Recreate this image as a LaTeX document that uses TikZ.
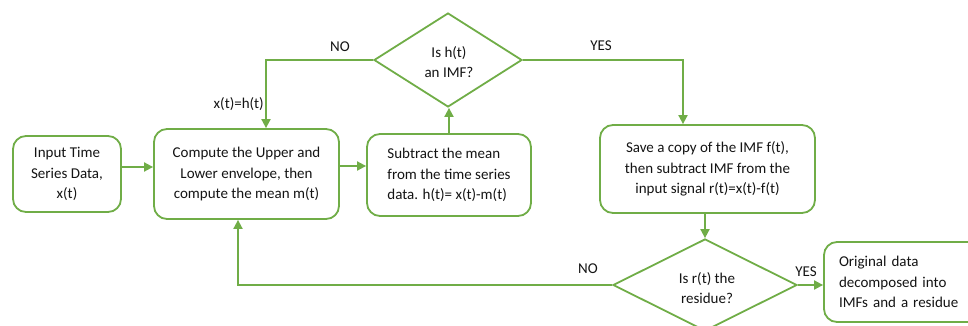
\documentclass[tikz,border=0pt]{standalone}
\usepackage{fontspec}
\setmainfont{Carlito}
\usetikzlibrary{shapes.geometric,arrows.meta}
\definecolor{gline}{RGB}{112,173,71}
\definecolor{txtc}{RGB}{20,20,20}
\tikzset{
  box/.style={draw=gline, line width=1.8pt, rounded corners=13pt, fill=white, inner sep=0pt, align=center, text=txtc},
  dia/.style={draw=gline, line width=1.8pt, diamond, inner sep=0pt, fill=white},
  txt/.style={align=center, text=txtc, inner sep=0pt},
  lbl/.style={text=txtc, inner sep=0pt},
  arr/.style={draw=gline, line width=1.8pt, -{Triangle[length=9pt,width=9pt]}},
  ln/.style={draw=gline, line width=1.8pt}
}
\begin{document}
\begin{tikzpicture}[x=1pt,y=-1pt,font=\fontsize{15}{20.5}\selectfont]
\useasboundingbox (0,0) rectangle (968,326);
\clip (0,0) rectangle (968,326);
\node[box, minimum width=108pt, minimum height=76pt] (in) at (67,174) {Input Time\\Series Data,\\x(t)};
\node[box, minimum width=185pt, minimum height=90pt] (comp) at (246.5,174) {Compute the Upper and\\Lower envelope, then\\compute the mean m(t)};
\node[box, minimum width=164pt, minimum height=82pt, align=left] (sub) at (449,175) {Subtract the mean\\from the time series\\data. h(t)= x(t)-m(t)};
\node[dia, minimum width=148pt, minimum height=94pt] (d1) at (448,60) {};
\node[txt] at (449,62) {Is h(t)\\an IMF?};
\node[box, minimum width=215pt, minimum height=88pt] (save) at (707.5,169) {Save a copy of the IMF f(t),\\then subtract IMF from the\\input signal r(t)=x(t)-f(t)};
\node[dia, minimum width=184pt, minimum height=92pt] (d2) at (705,285) {};
\node[txt] at (707,288) {Is r(t) the\\residue?};
\node[box, minimum width=170pt, minimum height=80pt, align=left, text width=140pt] (out) at (909,282) {Original data\\decomposed into\\IMFs and a residue};
% connectors
\draw[arr] ([yshift=7pt]in.east) -- ([yshift=7pt]in.east -| comp.west);
\draw[arr] ([yshift=8pt]comp.east) -- ([yshift=8pt]comp.east -| sub.west);
\draw[arr] (sub.north) -- (sub.north |- d1.south);
\draw[arr] (d1.west) -| ([xshift=19.5pt]comp.north);
\draw[arr] (d1.east) -| ([xshift=-24.5pt]save.north);
\draw[arr] (d2.north |- save.south) -- (d2.north);
\draw[arr] (d2.west) -| ([xshift=-8.5pt]comp.south);
\draw[arr] (d2.east) -- (d2.east -| out.west);
% labels
\node[lbl] (lno1) at (340,47) {NO};
\node[lbl] (lyes1) at (601,46) {YES};
\node[lbl] (lno2) at (588,269) {NO};
\node[lbl] (lyes2) at (806,272) {YES};
\node[lbl, anchor=east] (lxh) at (264,104) {x(t)=h(t)};
\end{tikzpicture}
\end{document}
